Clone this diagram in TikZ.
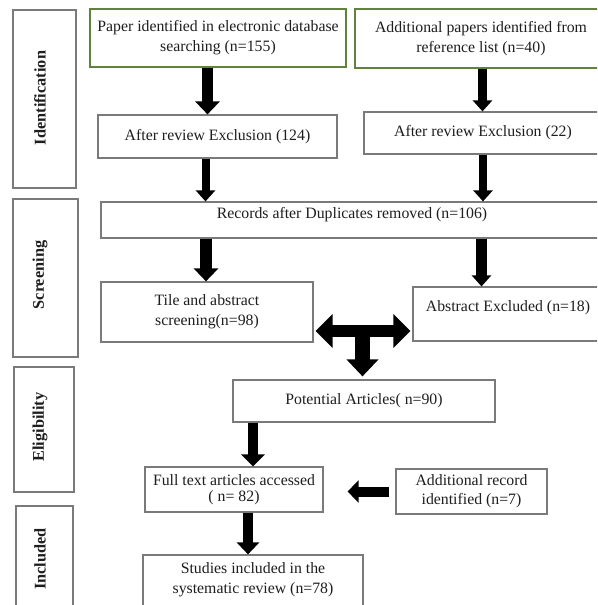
\documentclass[tikz,border=0pt]{standalone}
\usepackage{fontspec}
\setmainfont{Liberation Serif}
\usetikzlibrary{arrows.meta}
\definecolor{edgegray}{HTML}{7A7A7A}
\definecolor{edgegreen}{HTML}{60823C}
\definecolor{txt}{HTML}{1E1E1E}
\begin{document}
\begin{tikzpicture}[x=1pt,y=-1pt,
  mainfont/.style={font=\fontsize{15.8}{20}\selectfont},
  box/.style={draw=edgegray, line width=1.2pt, fill=white, inner sep=2pt, align=center,
    text=txt, mainfont},
  gbox/.style={box, draw=edgegreen},
  side/.style={draw=edgegray, line width=1.2pt, inner sep=0pt},
  sidetext/.style={rotate=90, text=txt, font=\fontsize{16.3}{18}\selectfont\bfseries, inner sep=0pt},
  plain/.style={text=txt, mainfont, inner sep=0pt, align=center}
]
\useasboundingbox (0,0) rectangle (597,605);
\clip (0,0) rectangle (597,605);
\fill[white] (0,0) rectangle (597,605);

% stage boxes
\node[side, minimum width=63pt, minimum height=178pt] (id) at (44.5,99) {};
\node[sidetext] (idT) at (40,98) {Identification};
\node[side, minimum width=65pt, minimum height=158pt] (scr) at (45.5,278) {};
\node[sidetext] (scrT) at (40,275) {Screening};
\node[side, minimum width=60pt, minimum height=125pt] (eli) at (44,429.5) {};
\node[sidetext] (eliT) at (40,427) {Eligibility};
\node[side, minimum width=57pt, minimum height=114pt] (inc) at (44.5,563) {};
\node[sidetext] (incT) at (40,559) {Included};

% flow boxes
\node[gbox, minimum width=256pt, minimum height=58pt] (p1) at (218,38)
  {Paper identified in electronic database\\searching (n=155)};
\node[gbox, minimum width=252pt, minimum height=59pt] (p2) at (481,38.5)
  {Additional papers identified from\\reference list (n=40)};
\node[box, minimum width=239pt, minimum height=43pt] (r1) at (217.5,136.5)
  {After review Exclusion (124)};
\node[box, minimum width=238pt, minimum height=42pt] (r2) at (483,133)
  {After review Exclusion (22)};
\node[box, minimum width=502pt, minimum height=36pt] (rec) at (352,220) {};
\node[plain] (recT) at (352,215) {Records after Duplicates removed (n=106)};
\node[box, minimum width=212pt, minimum height=60pt] (tile) at (207,312)
  {Tile and abstract\\screening(n=98)};
\node[box, minimum width=190pt, minimum height=54pt] (abs) at (508,314) {};
\node[plain] (absT) at (508,308) {Abstract Excluded (n=18)};
\node[box, minimum width=262pt, minimum height=42pt] (pot) at (364,401)
  {Potential Articles( n=90)};
\node[box, minimum width=178pt, minimum height=45pt, font=\fontsize{15.8}{16}\selectfont] (full) at (234,489.5)
  {Full text articles accessed\\( n= 82)};
\node[box, minimum width=151pt, minimum height=45pt, font=\fontsize{15.8}{19}\selectfont] (add) at (471.5,491.5)
  {Additional record\\identified (n=7)};
\node[box, minimum width=220pt, minimum height=65pt] (stu) at (253,587.5) {};
\node[plain] (stuT) at (253,580) {Studies included in the\\systematic review (n=78)};

% block arrows
\draw[line width=11pt, -{Triangle[width=24pt,length=13pt]}]
  ([xshift=-10.5pt]p1.south) -- ([xshift=-10pt]r1.north);
\draw[line width=8pt, -{Triangle[width=19pt,length=11pt]}]
  ([xshift=-12pt]r1.south) -- (rec.north -| 205.5,0);
\draw[line width=9pt, -{Triangle[width=19pt,length=11pt]}]
  ([xshift=1.5pt]p2.south) -- ([xshift=-0.5pt]r2.north);
\draw[line width=8pt, -{Triangle[width=19pt,length=11pt]}]
  (r2.south) -- (rec.north -| r2.south);
\draw[line width=12pt, -{Triangle[width=24pt,length=13pt]}]
  ([xshift=-1pt]rec.south -| tile.north) -- ([xshift=-1pt]tile.north);
\draw[line width=11pt, -{Triangle[width=19pt,length=11pt]}]
  ([xshift=-26.5pt]rec.south -| abs.north) -- ([xshift=-26.5pt]abs.north);

\coordinate (tj) at (362.5,331);
\draw[line width=12pt, {Triangle[width=33pt,length=17pt]}-{Triangle[width=33pt,length=17pt]},
  shorten <=2pt, shorten >=2pt]
  (tj -| tile.east) -- (tj -| abs.west);
\draw[line width=15pt, -{Triangle[width=31pt,length=17pt]}, shorten >=3pt]
  (tj) -- (pot.north -| tj);

\draw[line width=10pt, -{Triangle[width=23pt,length=12pt]}]
  ([xshift=-111pt]pot.south) -- ([xshift=19pt]full.north);
\draw[line width=10pt, -{Triangle[width=22pt,length=12pt]}]
  ([xshift=14pt]full.south) -- ([xshift=-5pt]stu.north);
\draw[line width=10pt, -{Triangle[width=22pt,length=11pt]}, shorten <=6pt, shorten >=24pt]
  (add.west) -- (full.east |- add.west);
\end{tikzpicture}
\end{document}
